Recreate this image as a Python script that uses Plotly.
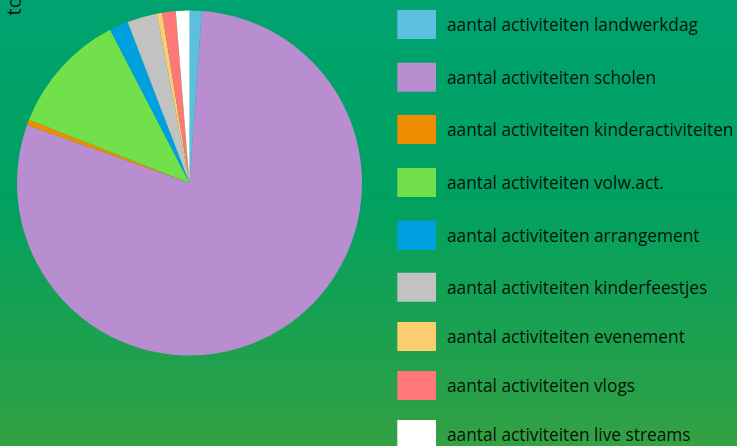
import plotly.graph_objects as go

W, H = 737, 446

labels = [
    "aantal activiteiten landwerkdag",
    "aantal activiteiten scholen",
    "aantal activiteiten kinderactiviteiten",
    "aantal activiteiten volw.act.",
    "aantal activiteiten arrangement",
    "aantal activiteiten kinderfeestjes",
    "aantal activiteiten evenement",
    "aantal activiteiten vlogs",
    "aantal activiteiten live streams",
]
values = [9, 625, 4, 90, 14, 22, 4, 10, 10]
colors = ["#5BC0DE", "#B88ED0", "#F08C00", "#72E04A", "#00A0E0",
          "#C2C2C2", "#FCCD70", "#FF7777", "#FFFFFF"]
title_text = "totaal aantal activiteiten"

def px_x(x):
    return x / W

def px_y(y):
    return 1 - y / H

fig = go.Figure()
fig.add_trace(go.Pie(
    labels=labels, values=values, sort=False, direction="clockwise", rotation=0,
    marker=dict(colors=colors, line=dict(width=0)),
    textinfo="none", hoverinfo="label+value+percent", showlegend=False,
    domain=dict(x=[px_x(189.5 - 172.5), px_x(189.5 + 172.5)],
                y=[px_y(183 + 172.5), px_y(183 - 172.5)]),
))

# background gradient (top -> bottom)
stops = [(0.0, (0, 163, 112)), (0.45, (0, 161, 96)), (1.0, (52, 161, 66))]

def grad(t):
    for (t0, c0), (t1, c1) in zip(stops[:-1], stops[1:]):
        if t0 <= t <= t1:
            f = (t - t0) / (t1 - t0)
            return tuple(round(a + (b - a) * f) for a, b in zip(c0, c1))
    return stops[-1][1]

shapes = []
n = 112
for i in range(n):
    t = (i + 0.5) / n
    c = grad(t)
    shapes.append(dict(type="rect", xref="paper", yref="paper", layer="below",
                       x0=-0.01, x1=1.01, y0=1 - (i + 1.05) / n, y1=1 - i / n,
                       line=dict(width=0), fillcolor="rgb(%d,%d,%d)" % c))

# custom legend
leg_centers = [24.5, 77.2, 129.5, 182.5, 235.3, 287.2, 336.5, 385.5, 434.5]
annotations = []
for lab, col, cy in zip(labels, colors, leg_centers):
    shapes.append(dict(type="rect", xref="paper", yref="paper", layer="above",
                       x0=px_x(397.3), x1=px_x(436), y0=px_y(cy + 14.5), y1=px_y(cy - 14.5),
                       line=dict(width=0), fillcolor=col))
    annotations.append(dict(text=lab, xref="paper", yref="paper", x=px_x(444.5),
                            y=px_y(cy), xanchor="left", yanchor="middle", showarrow=False,
                            font=dict(family="Open Sans", size=17.3, color="rgba(0,0,0,0.9)")))

annotations.append(dict(text=title_text, xref="paper", yref="paper", x=px_x(-3),
                        y=px_y(18), xanchor="left", yanchor="bottom", textangle=-90,
                        showarrow=False,
                        font=dict(family="Open Sans", size=20, color="rgba(0,0,0,0.85)")))

fig.update_layout(
    width=W, height=H, margin=dict(l=0, r=0, t=0, b=0),
    paper_bgcolor="rgb(0,161,100)", plot_bgcolor="rgba(0,0,0,0)",
    shapes=shapes, annotations=annotations, showlegend=False,
)

fig.write_html("out.html", config={"displayModeBar": False},
               post_script="document.body.style.margin='0';document.body.style.overflow='hidden';")
